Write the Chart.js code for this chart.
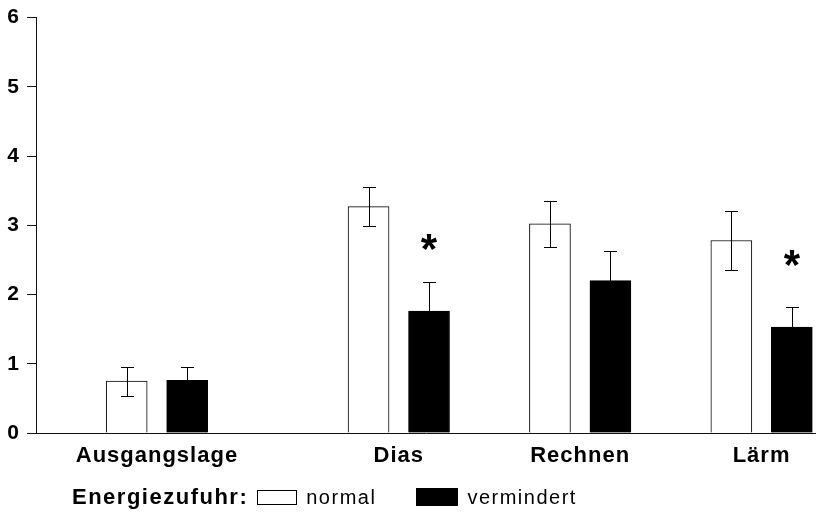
<!DOCTYPE html>
<html lang="de">
<head>
    <meta charset="UTF-8">
    <title>Energiezufuhr</title>
    <script src="https://cdn.jsdelivr.net/npm/chart.js"></script>
    <style>
        body { margin: 0; background: #fff; }
        .wrap { position: relative; width: 816px; height: 516px; }
        #legend {
            position: absolute; left: 72px; top: 482px; height: 30px;
            display: flex; align-items: center;
            font-family: "Liberation Sans", Arial, sans-serif; color: #000;
        }
        #legend .title { font-weight: bold; font-size: 22px; letter-spacing: 1.5px; }
        #legend .box { box-sizing: border-box; border: 1px solid #000; }
        #legend .lbl { font-size: 20px; letter-spacing: 1.5px; }
    </style>
</head>
<body>
<div class="wrap">
    <canvas id="chart"></canvas>
    <div id="legend"></div>
</div>
<script>
// data
const categories = ['Ausgangslage', 'Dias', 'Rechnen', 'Lärm'];
const normal = [0.75, 3.27, 3.02, 2.78];
const normalErr = [0.21, 0.28, 0.33, 0.43];
const vermindert = [0.76, 1.76, 2.20, 1.53];
const vermindertErr = [0.20, 0.42, 0.43, 0.29];
const significant = [false, true, false, true];
const yTicks = [0, 1, 2, 3, 4, 5, 6];

// where each category sits on the x axis (in bar slots)
const slot = [2, 6, 9, 12];

const FONT = "'Liberation Sans', Arial, sans-serif";

// slightly spaced lettering like the original print
const spacing = {
    id: 'spacing',
    beforeDraw(chart) { chart.ctx.letterSpacing = '1px'; },
    afterDraw(chart) { chart.ctx.letterSpacing = '0px'; }
};

// error bars + asterisks
const errorBars = {
    id: 'errorBars',
    afterDatasetsDraw(chart) {
        const ctx = chart.ctx;
        const y = chart.scales.y;
        ctx.save();
        ctx.strokeStyle = '#000';
        ctx.lineWidth = 1;
        chart.data.datasets.forEach((ds, i) => {
            const meta = chart.getDatasetMeta(i);
            meta.data.forEach((bar, j) => {
                const v = ds.data[j].y;
                const e = ds.errors[j];
                const top = Math.round(y.getPixelForValue(v + e)) + 0.5;
                const bot = Math.round(y.getPixelForValue(v - e)) + 0.5;
                const x = Math.round(bar.x) + 0.5;
                ctx.beginPath();
                ctx.moveTo(x, top); ctx.lineTo(x, bot);
                ctx.moveTo(x - 6.5, top); ctx.lineTo(x + 6.5, top);
                ctx.moveTo(x - 6.5, bot); ctx.lineTo(x + 6.5, bot);
                ctx.stroke();
                if (ds.stars && ds.stars[j]) {
                    ctx.letterSpacing = '0px';
                    ctx.font = 'bold 42px ' + FONT;
                    ctx.fillStyle = '#000';
                    ctx.textAlign = 'center';
                    ctx.textBaseline = 'alphabetic';
                    const m = ctx.measureText('*');
                    const cy = y.getPixelForValue(v + 1);
                    ctx.fillText('*', bar.x, cy - (m.actualBoundingBoxDescent - m.actualBoundingBoxAscent) / 2);
                }
            });
        });
        ctx.restore();
    }
};

// html legend built from the datasets
const htmlLegend = {
    id: 'htmlLegend',
    afterUpdate(chart) {
        const el = document.getElementById('legend');
        el.innerHTML = '';
        const t = document.createElement('span');
        t.className = 'title';
        t.textContent = 'Energiezufuhr:';
        el.appendChild(t);
        chart.data.datasets.forEach((ds, i) => {
            const b = document.createElement('span');
            b.className = 'box';
            b.style.background = ds.backgroundColor;
            b.style.width = i === 0 ? '40px' : '42px';
            b.style.height = i === 0 ? '15px' : '18px';
            b.style.marginLeft = i === 0 ? '9px' : '40px';
            const l = document.createElement('span');
            l.className = 'lbl';
            l.style.marginLeft = '9px';
            l.textContent = ds.label;
            el.appendChild(b);
            el.appendChild(l);
        });
    }
};

new Chart(document.getElementById('chart'), {
    type: 'bar',
    data: {
        datasets: [{
            label: 'normal',
            data: normal.map((v, i) => ({ x: slot[i] - 0.5, y: v })),
            errors: normalErr,
            backgroundColor: '#fff',
            borderColor: '#000',
            borderWidth: 1
        }, {
            label: 'vermindert',
            data: vermindert.map((v, i) => ({ x: slot[i] + 0.5, y: v })),
            errors: vermindertErr,
            stars: significant,
            backgroundColor: '#000',
            borderColor: '#000',
            borderWidth: 1
        }]
    },
    options: {
        responsive: true,
        maintainAspectRatio: false,
        animation: false,
        grouped: false,
        barThickness: 41,
        layout: { padding: { top: 14, left: 0, right: 0, bottom: 0 } },
        plugins: { legend: { display: false }, tooltip: { enabled: false } },
        scales: {
            x: {
                type: 'linear',
                offset: false,
                min: 0,
                max: 12.9,
                grid: { display: false, drawTicks: false },
                border: { display: true, color: '#111', width: 1 },
                afterBuildTicks: s => { s.ticks = slot.map(v => ({ value: v })); },
                afterFit: s => { s.height = 83; },
                ticks: {
                    autoSkip: false,
                    maxRotation: 0,
                    padding: 10,
                    color: '#000',
                    font: { family: FONT, size: 22, weight: 'bold' },
                    callback: v => categories[slot.indexOf(v)]
                }
            },
            y: {
                min: 0,
                max: 6,
                afterBuildTicks: s => { s.ticks = yTicks.map(v => ({ value: v })); },
                afterFit: s => { s.width = 36; },
                grid: { display: true, drawOnChartArea: false, drawTicks: true, tickLength: 9, color: '#111' },
                border: { display: true, color: '#111', width: 1 },
                ticks: {
                    padding: 7,
                    color: '#000',
                    font: { family: FONT, size: 21, weight: 'bold', lineHeight: 1 }
                }
            }
        }
    },
    plugins: [spacing, errorBars, htmlLegend]
});
</script>
</body>
</html>
